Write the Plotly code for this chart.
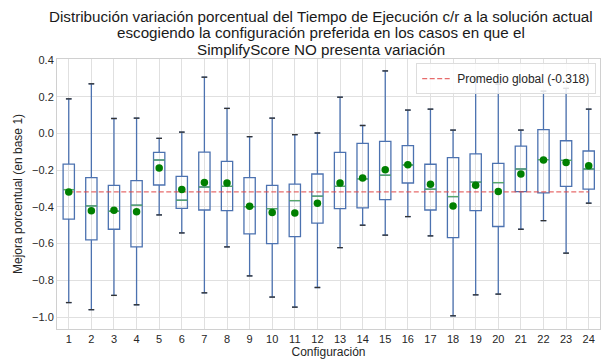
import plotly.graph_objects as go

configs = list(range(1, 25))
upper_whisker = [0.188, 0.270, 0.081, 0.083, -0.027, 0.007, 0.306, 0.136, -0.018, 0.083, -0.007, 0.002,
                 0.197, 0.043, 0.340, 0.127, 0.132, 0.018, 0.295, 0.268, 0.018, 0.230, 0.245, 0.132]
q3 = [-0.167, -0.241, -0.283, -0.257, -0.103, -0.234, -0.102, -0.152, -0.241, -0.283, -0.276, -0.221,
      -0.103, -0.054, -0.043, -0.067, -0.168, -0.132, -0.112, -0.163, -0.069, 0.020, -0.040, -0.096]
medians = [-0.306, -0.395, -0.424, -0.391, -0.145, -0.364, -0.292, -0.288, -0.399, -0.410, -0.366, -0.342,
           -0.288, -0.248, -0.228, -0.172, -0.304, -0.344, -0.265, -0.268, -0.194, -0.143, -0.147, -0.194]
q1 = [-0.467, -0.580, -0.522, -0.618, -0.281, -0.408, -0.417, -0.420, -0.547, -0.600, -0.562, -0.489,
      -0.410, -0.406, -0.361, -0.270, -0.417, -0.567, -0.420, -0.507, -0.317, -0.324, -0.288, -0.303]
lower_whisker = [-0.921, -0.960, -0.882, -0.933, -0.444, -0.542, -0.868, -0.618, -0.776, -0.891, -0.946, -0.839,
                 -0.622, -0.500, -0.554, -0.453, -0.558, -0.993, -0.879, -0.875, -0.522, -0.475, -0.652, -0.380]
means = [-0.319, -0.421, -0.419, -0.426, -0.189, -0.306, -0.268, -0.270, -0.397, -0.431, -0.433, -0.380,
         -0.270, -0.243, -0.198, -0.171, -0.277, -0.395, -0.283, -0.317, -0.221, -0.145, -0.158, -0.176]
global_mean = -0.318
title_lines = [
    "Distribución variación porcentual del Tiempo de Ejecución c/r a la solución actual",
    "escogiendo la configuración preferida en los casos en que el",
    "SimplifyScore NO presenta variación",
]

BOX_W = 0.5
CAP_W = 0.25
BLUE = "#4c72b0"
GREEN_MED = "#55a868"

fig = go.Figure()

fig.add_trace(go.Box(
    x=configs, q1=q1, median=medians, q3=q3,
    lowerfence=lower_whisker, upperfence=upper_whisker,
    width=BOX_W, whiskerwidth=0.5,
    fillcolor="rgba(0,0,0,0)",
    line=dict(color=BLUE, width=1.3),
    showlegend=False, hoverinfo="skip", boxpoints=False,
))

# median segments (green)
mx, my = [], []
for c, m in zip(configs, medians):
    mx += [c - BOX_W / 2, c + BOX_W / 2, None]
    my += [m, m, None]
fig.add_trace(go.Scatter(x=mx, y=my, mode="lines", line=dict(color=GREEN_MED, width=1.3),
                         showlegend=False, hoverinfo="skip"))

# caps (dark)
cx, cy = [], []
for c, lo, hi in zip(configs, lower_whisker, upper_whisker):
    cx += [c - CAP_W / 2, c + CAP_W / 2, None, c - CAP_W / 2, c + CAP_W / 2, None]
    cy += [lo, lo, None, hi, hi, None]
fig.add_trace(go.Scatter(x=cx, y=cy, mode="lines", line=dict(color="#333333", width=1.3),
                         showlegend=False, hoverinfo="skip"))

# global mean line
fig.add_trace(go.Scatter(
    x=[configs[0], configs[-1]], y=[global_mean, global_mean], mode="lines",
    line=dict(color="rgba(225,70,70,0.8)", width=1.3, dash="5px,2.5px"),
    name=f"Promedio global ({global_mean:.3f})",
))

# means
fig.add_trace(go.Scatter(x=configs, y=means, mode="markers",
                         marker=dict(color="#008000", size=7.5), showlegend=False, hoverinfo="skip"))

# title lines as annotations (tight line spacing)
plot_top, plot_h = 59, 270
for i, (line, ypix) in enumerate(zip(title_lines, [16, 33, 50])):
    fig.add_annotation(
        text=line, xref="paper", yref="paper",
        x=(321 - 57) / 543, y=1 + (plot_top - ypix) / plot_h,
        xanchor="center", yanchor="middle", showarrow=False,
        font=dict(size=15.2, color="#1a1a1a"),
    )

fig.update_layout(
    width=603, height=360,
    margin=dict(l=57, r=3, t=59, b=31),
    paper_bgcolor="white", plot_bgcolor="white",
    font=dict(family="Liberation Sans, Arial, sans-serif", color="#262626", size=11),
    legend=dict(
        x=0.993, y=0.985, xanchor="right", yanchor="top",
        bgcolor="rgba(255,255,255,0.85)", bordercolor="#dddddd", borderwidth=1,
        font=dict(size=12),
    ),
    showlegend=True,
)

fig.update_xaxes(
    range=[0.48, 24.5], tickmode="array", tickvals=configs, ticktext=[str(c) for c in configs],
    showgrid=True, gridcolor="#e0e0e0", gridwidth=1,
    showline=True, linecolor="#d0d0d0", mirror=True, zeroline=False,
    title=dict(text="Configuración", font=dict(size=12), standoff=2),
    tickfont=dict(size=11), ticks="",
)
fig.update_yaxes(
    range=[-1.065, 0.405], tickmode="array",
    tickvals=[-1.0, -0.8, -0.6, -0.4, -0.2, 0.0, 0.2, 0.4],
    ticktext=["\u22121.0", "\u22120.8", "\u22120.6", "\u22120.4", "\u22120.2", "0.0", "0.2", "0.4"],
    showgrid=True, gridcolor="#e0e0e0", gridwidth=1,
    showline=True, linecolor="#d0d0d0", mirror=True, zeroline=False,
    title=dict(text="Mejora porcentual (en base 1)", font=dict(size=12), standoff=6),
    tickfont=dict(size=11), ticks="",
)

fig.write_html("out.html")
